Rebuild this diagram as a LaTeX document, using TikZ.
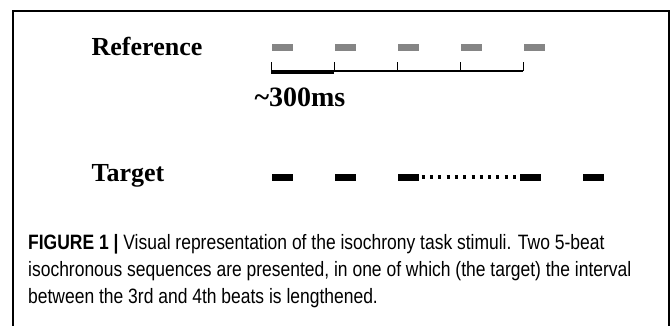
\documentclass[tikz,border=0pt]{standalone}
\usepackage{fontspec}
\setmainfont{Liberation Serif}
\newfontfamily\capfont[FakeStretch=0.84]{Liberation Sans}
\usetikzlibrary{positioning}

\begin{document}
\begin{tikzpicture}[x=1pt, y=-1pt,
		beat/.style = {minimum width=21pt, minimum height=7pt, inner sep=0pt},
		refbeat/.style = {beat, fill=black!48},
		tgtbeat/.style = {beat, fill=black},
		rowlabel/.style = {font=\fontsize{26}{26}\selectfont\bfseries, inner sep=0pt},
		capline/.style = {anchor=base west, inner sep=0pt, font=\capfont\fontsize{20.8}{20.8}\selectfont}]
		\useasboundingbox (0,0) rectangle (672,325);
		
		% frame, open at the bottom
		\draw[line width=1.5pt] (13,340) -- (13,11) -- (669,11) -- (669,340);
		
		% the two sequences
		\node[rowlabel] (reflabel) at (147,46) {Reference};
		\node[rowlabel] (tgtlabel) at (128,176) {Target};
		\foreach \i/\x in {1/282,2/345,3/408,4/471,5/534}
			\node[refbeat] (ref\i) at (\x,47) {};
		\foreach \i/\x in {1/282,2/345,3/408,4/530,5/593}
			\node[tgtbeat] (tgt\i) at (\x,177) {};
		
		% lengthened interval
		\draw[line width=3.2pt, dash pattern=on 3pt off 5.3pt] ([xshift=3pt]tgt3.east) -- (tgt4.west);
		
		% time scale
		\foreach \i in {1,...,5}
			\coordinate (tick\i) at (ref\i.south west |- 0,71);
		\draw[line width=1.3pt] (tick1) -- (tick5);
		\foreach \i in {1,...,5}
			\draw[line width=1.3pt] (tick\i) -- ++(0,-9);
		\draw[line width=3.4pt] ([yshift=-1pt]tick1) -- ([yshift=-1pt]tick2);
		\node[font=\fontsize{28}{28}\selectfont\bfseries, inner sep=0pt] (interval) at (300,97) {\textasciitilde300ms};
		
		% caption
		\node[capline] (cap1) at (28,249) {\textbf{FIGURE 1 |} Visual representation of the isochrony task stimuli. Two 5-beat};
		\node[capline] (cap2) at (28,276) {isochronous sequences are presented, in one of which (the target) the interval};
		\node[capline] (cap3) at (28,303) {between the 3rd and 4th beats is lengthened.};
	\end{tikzpicture}
\end{document}
